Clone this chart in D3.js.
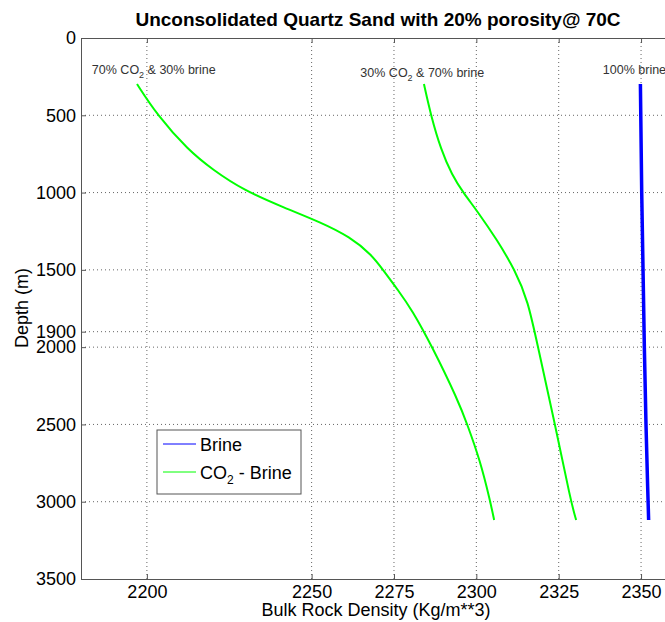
<!DOCTYPE html>
<html><head><meta charset="utf-8">
<script src="https://cdn.jsdelivr.net/npm/d3@7"></script>
<style>body{margin:0;background:#fff;} svg{display:block;} text{font-family:"Liberation Sans",Arial,sans-serif;}</style>
</head><body><svg id="c" width="665" height="622"></svg>
<script>
const xTicks = [2200, 2250, 2275, 2300, 2325, 2350];
const yTicks = [0, 500, 1000, 1500, 1900, 2000, 2500, 3000, 3500];

const co2_70_depth = [298, 498, 725, 854, 983, 1100, 1190, 1287, 1404, 1501, 1630, 1760, 1993, 2342, 2497, 2730, 2995, 3118];
const co2_70_dens  = [2197.0, 2203.1, 2212.5, 2220.1, 2229.2, 2241.9, 2252.5, 2261.7, 2268.3, 2271.7, 2276.2, 2280.5, 2286.5, 2294.4, 2297.2, 2301.1, 2304.2, 2305.4];

const co2_30_depth = [298, 500, 725, 886, 1000, 1126, 1307, 1500, 1700, 2000, 2500, 3000, 3118];
const co2_30_dens  = [2284.1, 2286.2, 2289.3, 2292.6, 2296.0, 2300.5, 2306.3, 2311.7, 2315.7, 2318.7, 2323.9, 2328.7, 2330.3];

const brine_depth = [298, 1000, 1500, 2000, 2500, 2900, 3118];
const brine_dens  = [2349.8, 2350.2, 2350.6, 2351.0, 2351.5, 2352.0, 2352.3];

const labels = [
  {text: "70% CO", sub: "2", rest: " & 30% brine", d: 2183.3, depth: 232},
  {text: "30% CO", sub: "2", rest: " & 70% brine", d: 2264.8, depth: 252},
  {text: "100% brine", sub: "", rest: "", d: 2338.4, depth: 232}
];

const svg = d3.select("#c");
const x = d3.scaleLinear().domain([2180, 2360]).range([81, 674]);
const y = d3.scaleLinear().domain([0, 3500]).range([38, 579]);

// grid
const g = svg.append("g");
g.selectAll(".gx").data(xTicks).enter().append("line")
  .attr("x1", d => x(d)).attr("x2", d => x(d)).attr("y1", y(0)).attr("y2", y(3500))
  .attr("stroke", "#666").attr("stroke-width", 1).attr("stroke-dasharray", "1,3");
g.selectAll(".gy").data(yTicks.filter(d => d > 0 && d < 3500)).enter().append("line")
  .attr("x1", x(2180)).attr("x2", x(2360)).attr("y1", d => y(d)).attr("y2", d => y(d))
  .attr("stroke", "#666").attr("stroke-width", 1).attr("stroke-dasharray", "1,3");

// axes
const xAxis = d3.axisBottom(x).tickValues(xTicks).tickSizeInner(-5).tickSizeOuter(0).tickPadding(6).tickFormat(d3.format("d"));
const yAxis = d3.axisLeft(y).tickValues(yTicks).tickSizeInner(-5).tickSizeOuter(0).tickPadding(5).tickFormat(d3.format("d"));
const xa = svg.append("g").attr("transform", `translate(0,${y(3500)})`).call(xAxis);
const ya = svg.append("g").attr("transform", `translate(${x(2180)},0)`).call(yAxis);
const xt = svg.append("g").attr("transform", `translate(0,${y(0)})`).call(d3.axisTop(x).tickValues(xTicks).tickSizeInner(-5).tickSizeOuter(0).tickFormat(""));
[xa, ya, xt].forEach(a => {
  a.selectAll("path").attr("stroke", "#555").attr("stroke-width", 1);
  a.selectAll("line").attr("stroke", "#555");
  a.selectAll("text").attr("font-size", 18).attr("fill", "#000").attr("font-family", "Liberation Sans, Arial, sans-serif");
});

// lines
const curve = d3.line().x(p => x(p[0])).y(p => y(p[1])).curve(d3.curveBasis);
const line = d3.line().x(p => x(p[0])).y(p => y(p[1]));
svg.append("path").datum(co2_70_dens.map((v, i) => [v, co2_70_depth[i]]))
  .attr("d", curve).attr("fill", "none").attr("stroke", "#00ff00").attr("stroke-width", 2);
svg.append("path").datum(co2_30_dens.map((v, i) => [v, co2_30_depth[i]]))
  .attr("d", curve).attr("fill", "none").attr("stroke", "#00ff00").attr("stroke-width", 2);
svg.append("path").datum(brine_dens.map((v, i) => [v, brine_depth[i]]))
  .attr("d", line).attr("fill", "none").attr("stroke", "#0000ff").attr("stroke-width", 3.5);

// annotations
labels.forEach(l => {
  const t = svg.append("text").attr("x", x(l.d)).attr("y", y(l.depth)).attr("font-size", 12.5).attr("fill", "#333");
  t.append("tspan").text(l.text);
  if (l.sub) {
    t.append("tspan").attr("font-size", 9).attr("dy", 4).text(l.sub);
    t.append("tspan").attr("dy", -4).text(l.rest);
  }
});

// title
svg.append("text").attr("x", 378).attr("y", 26).attr("text-anchor", "middle")
  .attr("font-size", 19).attr("font-weight", "bold").text("Unconsolidated Quartz Sand with 20% porosity@ 70C");
// axis labels
svg.append("text").attr("x", 376).attr("y", 616).attr("text-anchor", "middle").attr("font-size", 18)
  .text("Bulk Rock Density (Kg/m**3)");
svg.append("text").attr("transform", "translate(28,308) rotate(-90)").attr("text-anchor", "middle").attr("font-size", 18)
  .text("Depth (m)");

// legend
const lg = svg.append("g");
lg.append("rect").attr("x", 157).attr("y", 430).attr("width", 144).attr("height", 64)
  .attr("fill", "#fff").attr("stroke", "#555").attr("stroke-width", 1);
const legendItems = [{name: "Brine", color: "#0000ff"}, {name: "CO2 - Brine", color: "#00ff00"}];
legendItems.forEach((it, i) => {
  const yy = 444 + i * 28;
  lg.append("line").attr("x1", 163).attr("x2", 196).attr("y1", yy).attr("y2", yy).attr("stroke", it.color).attr("stroke-width", 1);
  const t = lg.append("text").attr("x", 200).attr("y", yy + 6.5).attr("font-size", 18);
  if (i === 0) t.text(it.name);
  else {
    t.append("tspan").text("CO");
    t.append("tspan").attr("font-size", 12).attr("dy", 5).text("2");
    t.append("tspan").attr("dy", -5).text(" - Brine");
  }
});
</script></body></html>
